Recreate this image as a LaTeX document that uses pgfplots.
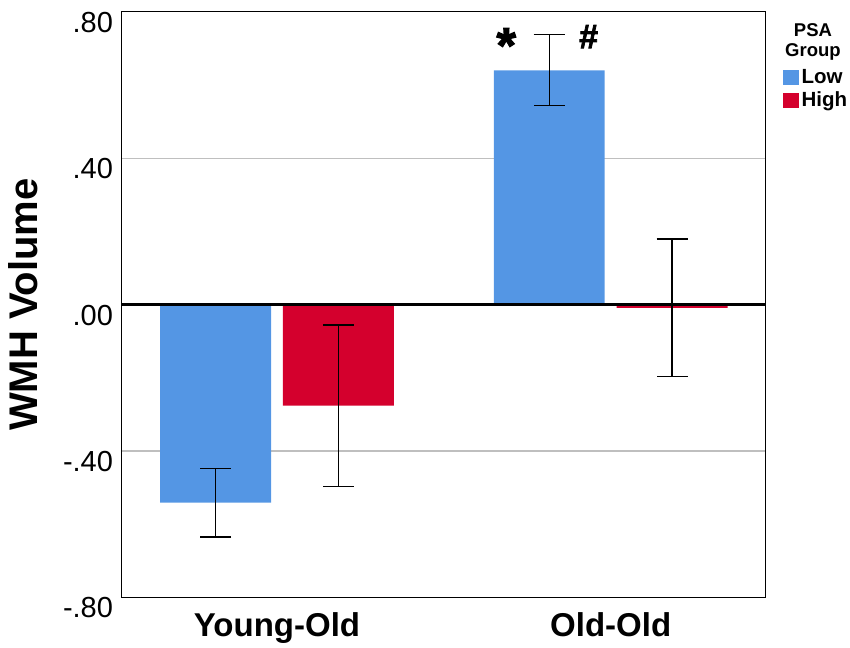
\documentclass[border=0pt]{standalone}
\usepackage{fontspec}
\setmainfont{Liberation Sans}
\newfontfamily\heavyfont{Liberation Sans}[BoldFeatures={FakeBold=2.2}]
\usepackage{pgfplots}
\pgfplotsset{compat=1.18}
\definecolor{lowblue}{RGB}{84,150,228}
\definecolor{highred}{RGB}{212,0,45}
\begin{document}
\begin{tikzpicture}
\path[use as bounding box] (0bp,0bp) rectangle (850bp,648bp);
\begin{axis}[
  at={(121.7bp,50.5bp)}, anchor=south west,
  scale only axis, width=644bp, height=585.8bp,
  xmin=-0.4654, xmax=1.4645, ymin=-0.8, ymax=0.8,
  ytick={-0.8,-0.4,0,0.4,0.8},
  yticklabels={-.80,-.40,.00,.40,.80},
  xtick={0,1}, xticklabels={Young-Old,Old-Old},
  major tick length=0pt,
  ymajorgrids, grid style={draw=black!25, line width=1.2bp},
  axis line style={line width=1.3bp},
  yticklabel style={font=\fontsize{29bp}{29bp}\selectfont, anchor=north east, inner sep=0pt, xshift=-8.5bp},
  xticklabel style={font=\bfseries\fontsize{33bp}{33bp}\selectfont, anchor=north, inner sep=0pt, yshift=-14.5bp},
  ylabel={WMH Volume},
  ylabel style={font=\bfseries\fontsize{40bp}{40bp}\selectfont, at={(axis description cs:-0.1315,0.5)}, anchor=base, inner sep=0pt},
  legend style={at={(1.0269,0.9013)}, anchor=north west, draw=none, fill=none, inner sep=0pt, outer sep=0pt,
    row sep=7bp, column sep=3bp, font=\bfseries\fontsize{20.5bp}{20.5bp}\selectfont,
    nodes={inner sep=0pt, text height=14bp, text depth=2bp, anchor=west}},
  legend cell align=left,
  clip=false,
]
\addplot[ybar, bar width=0.3323, bar shift=0pt, fill=lowblue, draw=none,
  legend image code/.code={\fill[lowblue] (0bp,-7.75bp) rectangle (15.5bp,7.75bp);},
  error bars/.cd, y dir=both, y explicit,
  error bar style={line width=1.3bp, black},
  error mark options={rotate=90, mark size=15.5bp, line width=1.3bp, black}]
  coordinates {(-0.184,-0.541) +- (0,0.094) (0.8157,0.640) +- (0,0.097)};
\addlegendentry{Low}
\addplot[ybar, bar width=0.3323, bar shift=0pt, fill=highred, draw=none,
  legend image code/.code={\fill[highred] (0bp,-7.75bp) rectangle (15.5bp,7.75bp);},
  error bars/.cd, y dir=both, y explicit,
  error bar style={line width=1.3bp, black},
  error mark options={rotate=90, mark size=15.5bp, line width=1.3bp, black}]
  coordinates {(0.184,-0.276) +- (0,0.220) (1.184,-0.009) +- (0,0.188)};
\addlegendentry{High}
\draw[black, line width=2.6bp] ({rel axis cs:0,0}|-{axis cs:0,0}) -- ({rel axis cs:1,0}|-{axis cs:0,0});
\node[anchor=north, align=center, inner sep=0pt, font=\bfseries\fontsize{18.5bp}{20bp}\selectfont] at (rel axis cs:1.0734,0.9807) {PSA\\Group};
\node[anchor=north, inner sep=0pt, font=\heavyfont\bfseries\fontsize{50bp}{50bp}\selectfont] at (axis cs:0.687,0.7555) {*};
\node[anchor=north, inner sep=0pt, font=\heavyfont\bfseries\fontsize{34bp}{34bp}\selectfont] at (axis cs:0.934,0.764) {\#};
\end{axis}
\end{tikzpicture}
\end{document}
